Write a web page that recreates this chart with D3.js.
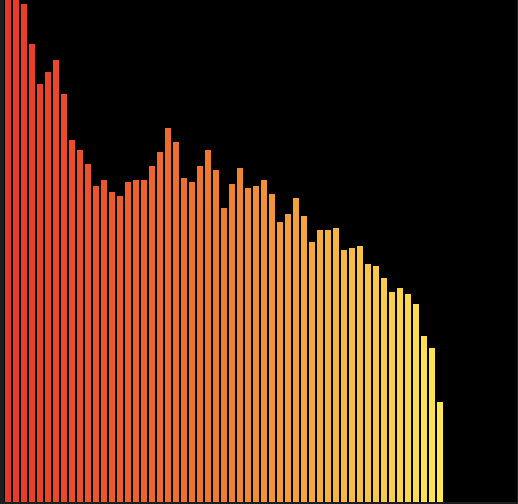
<!DOCTYPE html>
<html>
<head>
<meta charset="utf-8">
<script src="https://cdn.jsdelivr.net/npm/d3@7"></script>
<style>
  html, body { margin: 0; padding: 0; background: #1e1e1e; overflow: hidden; }
  svg { position: absolute; left: 4px; top: 0; background: #000; }
</style>
</head>
<body>
<svg id="chart"></svg>
<script>
// bar values, left to right (the first two run past the top of the frame)
const values = [
  525, 508, 498, 458, 418, 430, 442, 408, 362, 352,
  338, 316, 322, 310, 306, 320, 322, 322, 336, 350,
  374, 360, 324, 320, 336, 352, 332, 294, 318, 334,
  314, 316, 322, 308, 280, 288, 304, 286, 260, 272,
  272, 274, 252, 254, 256, 238, 236, 224, 210, 214,
  208, 198, 166, 154, 100
];
const colorStops = ['#e8382a', '#ef7d31', '#fde84f'];

const width = 513, height = 502;
const plotWidth = 440;

const svg = d3.select('#chart')
  .attr('width', width)
  .attr('height', height);

const x = d3.scaleBand()
  .domain(d3.range(values.length))
  .range([0, plotWidth])
  .paddingInner(0.25)
  .paddingOuter(0.125);

const y = d3.scaleLinear()
  .domain([0, height])
  .range([height, 0]);

const color = d3.scaleLinear()
  .domain([0, (values.length - 1) / 2, values.length - 1])
  .range(colorStops);

svg.append('g')
  .selectAll('rect')
  .data(values)
  .join('rect')
  .attr('x', (d, i) => x(i))
  .attr('y', d => y(d))
  .attr('width', x.bandwidth())
  .attr('height', d => y(0) - y(d))
  .attr('fill', (d, i) => color(i));
</script>
</body>
</html>
